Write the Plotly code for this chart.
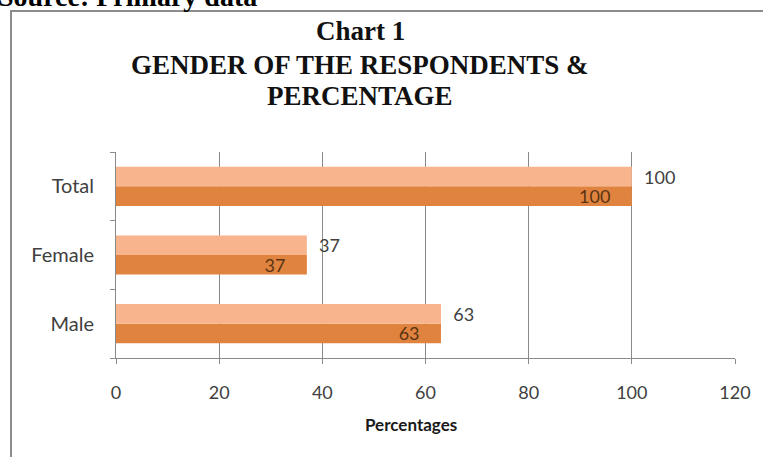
import plotly.graph_objects as go

categories = ["Male", "Female", "Total"]
series_a = [63, 37, 100]   # light series
series_b = [63, 37, 100]   # dark series
x_ticks = [0, 20, 40, 60, 80, 100, 120]

W, H = 763, 457
L, R, T, B = 116, 28, 152, 99
pw, ph = W - L - R, H - T - B

def px(x):
    return (x - L) / pw

def py(y):
    return (H - B - y) / ph

fig = go.Figure()
fig.add_trace(go.Bar(
    y=categories, x=series_b, orientation="h", name="B",
    marker=dict(color="#E0833F", line=dict(width=0)),
    text=[f"{v}    " for v in series_b], textposition="inside",
    insidetextanchor="end", constraintext="none",
    textfont=dict(family="Lato", size=18, color="#5a3414"),
    cliponaxis=False,
))
fig.add_trace(go.Bar(
    y=categories, x=series_a, orientation="h", name="A",
    marker=dict(color="#F8B48D", line=dict(width=0)),
    text=[f"  {v}" for v in series_a], textposition="outside",
    constraintext="none",
    textfont=dict(family="Lato", size=18, color="#404040"),
    cliponaxis=False,
))

fig.update_layout(
    width=W, height=H,
    margin=dict(l=L, r=R, t=T, b=B),
    paper_bgcolor="white", plot_bgcolor="white",
    barmode="group", bargap=0.43, bargroupgap=0,
    showlegend=False,
    xaxis=dict(
        range=[0, 120], tickvals=x_ticks, ticktext=[str(v) for v in x_ticks],
        showgrid=True, gridcolor="#8a8a8a", gridwidth=1,
        showline=True, linecolor="#8a8a8a", linewidth=1,
        ticks="outside", ticklen=5, tickcolor="#8a8a8a",
        tickfont=dict(family="Lato", size=18, color="#404040"),
        ticklabelstandoff=13, zeroline=False, fixedrange=True,
    ),
    yaxis=dict(
        categoryorder="array", categoryarray=categories,
        showgrid=False, showline=True, linecolor="#8a8a8a", linewidth=1,
        ticks="outside", ticklen=5, tickcolor="#8a8a8a", tickson="boundaries",
        tickfont=dict(family="Lato", size=20, color="#404040"),
        ticklabelstandoff=17, fixedrange=True,
    ),
)

# chart frame
fig.add_shape(type="rect", xref="paper", yref="paper",
              x0=px(11), x1=px(790), y0=py(480), y1=py(11),
              line=dict(color="#8c8c8c", width=2), fillcolor="rgba(0,0,0,0)", layer="below")

title_lines = ["Chart 1", "GENDER OF THE RESPONDENTS &", "PERCENTAGE"]
title_y = [31, 65, 96]
for t, yy in zip(title_lines, title_y):
    fig.add_annotation(text=f"<b>{t}</b>", xref="paper", yref="paper",
                       x=px(360), y=py(yy), xanchor="center", yanchor="middle",
                       showarrow=False,
                       font=dict(family="Liberation Serif", size=27, color="#111111"))

fig.add_annotation(text="<b>Percentages</b>", xref="paper", yref="paper",
                   x=px(411), y=py(424), xanchor="center", yanchor="middle",
                   showarrow=False, font=dict(family="Lato", size=17, color="#1a1a1a"))

fig.add_annotation(text="<b>Source: Primary data</b>", xref="paper", yref="paper",
                   x=px(-4), y=py(14), xanchor="left", yanchor="bottom",
                   showarrow=False,
                   font=dict(family="Liberation Serif", size=28, color="#000000"))

fig.write_html("out.html")
